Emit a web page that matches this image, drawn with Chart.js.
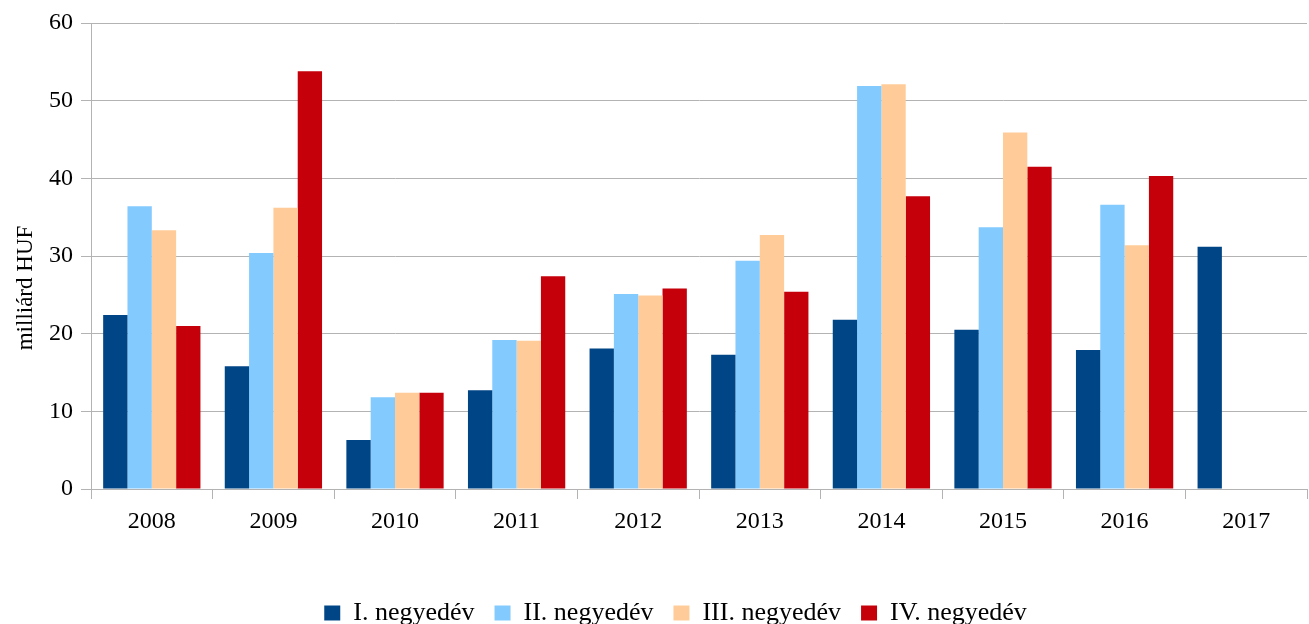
<!DOCTYPE html>
<html>
<head>
<meta charset="utf-8">
<script src="https://cdn.jsdelivr.net/npm/chart.js@4"></script>
<style>
  html, body { margin: 0; padding: 0; background: #fff; }
  #wrap { width: 1309px; height: 624px; }
</style>
</head>
<body>
<div id="wrap"><canvas id="chart"></canvas></div>
<script>
const years = ["2008", "2009", "2010", "2011", "2012", "2013", "2014", "2015", "2016", "2017"]
const q1 = [22.4, 15.8, 6.3, 12.7, 18.1, 17.3, 21.8, 20.5, 17.9, 31.2]
const q2 = [36.4, 30.4, 11.8, 19.2, 25.1, 29.4, 51.9, 33.7, 36.6, null]
const q3 = [33.3, 36.2, 12.4, 19.1, 24.9, 32.7, 52.1, 45.9, 31.4, null]
const q4 = [21.0, 53.8, 12.4, 27.4, 25.8, 25.4, 37.7, 41.5, 40.3, null]
const seriesNames = ["I. negyedév", "II. negyedév", "III. negyedév", "IV. negyedév"]
const yTicks = [0, 10, 20, 30, 40, 50, 60]
const yTitle = "milliárd HUF"

const colors = ["#004586", "#83caff", "#ffcc99", "#c5000b"]
const font = "'Liberation Serif', 'DejaVu Serif', serif"
const gridGray = "#b3b3b3"

const datasets = [q1, q2, q3, q4].map((data, i) => ({
  label: seriesNames[i],
  data: data,
  backgroundColor: colors[i],
  borderWidth: 0,
  categoryPercentage: 0.8,
  barPercentage: 1.0
}))

// y-axis title sits a bit below the middle of the plot, like the original
const yTitlePlugin = {
  id: "yTitle",
  afterDraw(chart) {
    const { ctx, chartArea } = chart
    ctx.save()
    ctx.translate(26, (chartArea.top + chartArea.bottom) / 2 + 32)
    ctx.rotate(-Math.PI / 2)
    ctx.font = "23px " + font
    ctx.fillStyle = "#000"
    ctx.textAlign = "center"
    ctx.textBaseline = "middle"
    ctx.fillText(yTitle, 0, 0)
    ctx.restore()
  }
}

new Chart(document.getElementById("chart"), {
  type: "bar",
  data: { labels: years, datasets: datasets },
  plugins: [yTitlePlugin],
  options: {
    responsive: true,
    maintainAspectRatio: false,
    animation: false,
    // left padding pushes the legend right; the y axis box shrinks to keep the plot at x=91
    layout: { padding: { top: 23, right: 2, left: 44, bottom: -12 } },
    plugins: {
      legend: {
        position: "bottom",
        labels: {
          color: "#000",
          font: { family: font, size: 26 },
          boxWidth: 16,
          boxHeight: 15,
          padding: 20
        }
      },
      tooltip: { enabled: false }
    },
    scales: {
      x: {
        grid: {
          offset: true,
          drawOnChartArea: false,
          color: gridGray,
          tickLength: 10
        },
        border: { color: gridGray, width: 1 },
        ticks: {
          color: "#000",
          font: { family: font, size: 24 },
          padding: 8,
          maxRotation: 0
        },
        afterFit: (scale) => { scale.height = 91 }
      },
      y: {
        min: 0,
        max: 60,
        afterBuildTicks: (scale) => { scale.ticks = yTicks.map(v => ({ value: v })) },
        grid: { color: gridGray, tickLength: 10 },
        border: { color: gridGray, width: 1 },
        ticks: {
          color: "#000",
          font: { family: font, size: 24 },
          padding: 8
        },
        afterFit: (scale) => { scale.width = 47 }
      }
    }
  }
})
</script>
</body>
</html>
